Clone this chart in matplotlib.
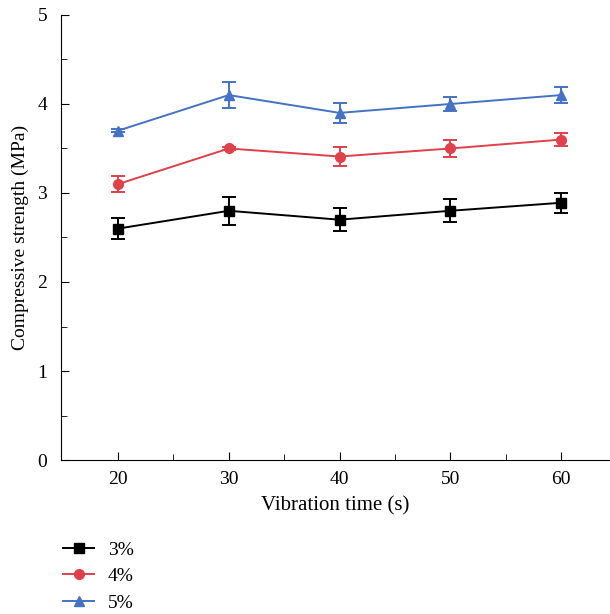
import matplotlib.pyplot as plt
from matplotlib.lines import Line2D
from matplotlib.ticker import MultipleLocator, FixedLocator

plt.rcParams['font.family'] = ['Liberation Serif', 'DejaVu Serif']

# vibration time (s)
times = [20, 30, 40, 50, 60]
labels = ["3%", "4%", "5%"]

# compressive strength (MPa) and error bars per series
s3 = [2.60, 2.80, 2.70, 2.80, 2.89]
e3 = [0.12, 0.16, 0.13, 0.13, 0.11]
s4 = [3.10, 3.50, 3.41, 3.50, 3.60]
e4 = [0.09, 0.02, 0.11, 0.09, 0.07]
s5 = [3.70, 4.10, 3.90, 4.00, 4.10]
e5 = [0.02, 0.15, 0.11, 0.08, 0.09]

colors = ["#000000", "#e0404a", "#4472c4"]
markers = ["s", "o", "^"]

fig = plt.figure(figsize=(6.1, 6.14), dpi=100)
ax = fig.add_axes([0.1, 0.2508, 0.9, 0.7248])

handles = []
for vals, errs, c, m, lab in zip([s3, s4, s5], [e3, e4, e5], colors, markers, labels):
    ax.errorbar(times, vals, yerr=errs, color=c, marker=m, markersize=7,
                linewidth=1.4, elinewidth=1.4, capsize=5, capthick=1.4)
    handles.append(Line2D([], [], color=c, marker=m, markersize=7,
                          linewidth=1.4, label=lab))

ax.set_xlim(14.85, 64.42)
ax.set_ylim(0, 5)
ax.xaxis.set_major_locator(MultipleLocator(10))
ax.xaxis.set_minor_locator(FixedLocator([25, 35, 45, 55]))
ax.yaxis.set_major_locator(MultipleLocator(1))
ax.yaxis.set_minor_locator(MultipleLocator(0.5))
ax.tick_params(which='both', direction='in', labelsize=14)
ax.tick_params(which='major', length=6)
ax.tick_params(which='minor', length=4)
ax.tick_params(axis='x', pad=8)
ax.tick_params(axis='y', pad=10)
ax.spines['top'].set_visible(False)
ax.spines['right'].set_visible(False)

ax.set_xlabel("Vibration time (s)", fontsize=15, labelpad=6)
ax.set_ylabel("Compressive strength (MPa)", fontsize=14, labelpad=6)

fig.legend(handles=handles, loc='upper left', bbox_to_anchor=(0.075, 0.147),
           frameon=False, fontsize=14, handlelength=1.6, handletextpad=0.7,
           labelspacing=0.45)

fig.savefig("out.png", dpi=100)
